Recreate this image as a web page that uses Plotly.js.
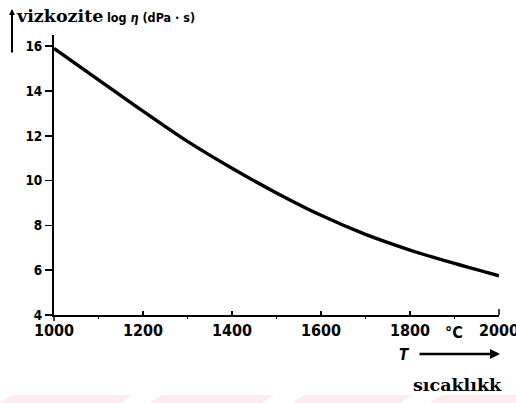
<!DOCTYPE html>
<html><head><meta charset="utf-8">
<script src="https://cdn.plot.ly/plotly-3.0.1.min.js"></script>
<style>html,body{margin:0;padding:0;background:#fff;overflow:hidden}#c{width:516px;height:403px}</style>
</head><body><div id="c"></div>
<script>
const temperature = [1000, 1100, 1200, 1300, 1400, 1500, 1600, 1700, 1800, 1900, 2000];
const logViscosity = [15.9, 14.5, 13.1, 11.75, 10.55, 9.45, 8.45, 7.6, 6.9, 6.3, 5.75];
const xTicks = [1000, 1200, 1400, 1600, 1800, 2000];
const xTickLabels = ['1000', '1200', '1400', '1600', '1800', '2000'];
const yTicks = [4, 6, 8, 10, 12, 14, 16];
const yTickLabels = ['4', '6', '8', '10', '12', '14', '16'];

const L = 54, R = 499, T = 35, B = 315;
const px = X => (X - L) / (R - L);
const py = Y => (B - Y) / (B - T);
const condFam = 'DejaVu Sans Condensed, DejaVu Sans, sans-serif';
const xTickFont = {family: condFam, size: 16, color: '#000', weight: 'bold'};
const yTickFont = {family: condFam, size: 13.5, color: '#000', weight: 'bold'};
const serif = 'DejaVu Serif, serif';

const trace = {
  x: temperature, y: logViscosity, type: 'scatter', mode: 'lines',
  line: {color: '#000', width: 3.4, shape: 'spline'}, hoverinfo: 'skip'
};

const pink = '#fdecef';
const bands = [[0,120],[150,262],[292,400],[430,516]].map(([a,b]) => ({
  type: 'path', xref: 'paper', yref: 'paper',
  path: `M ${px(a+12)} ${py(395)} L ${px(b+12)} ${py(395)} L ${px(b)} ${py(403)} L ${px(a)} ${py(403)} Z`,
  fillcolor: pink, line: {width: 0}, layer: 'below'
}));

const layout = {
  width: 516, height: 403,
  margin: {l: L, r: 516 - R, t: T, b: 403 - B},
  paper_bgcolor: '#fff', plot_bgcolor: '#fff',
  showlegend: false,
  xaxis: {
    range: [1000, 2000], tickvals: xTicks, ticktext: xTickLabels,
    showgrid: false, zeroline: false, showline: true, linecolor: '#000', linewidth: 2,
    ticks: 'inside', ticklen: 4, tickwidth: 1.5, tickcolor: '#000',
    minor: {tickvals: [1100, 1300, 1500, 1700, 1900], ticks: 'outside', ticklen: 2, tickwidth: 1.5, tickcolor: '#000'},
    tickfont: xTickFont, ticklabeloverflow: 'allow'
  },
  yaxis: {
    range: [4, 16.5], tickvals: yTicks, ticktext: yTickLabels,
    showgrid: false, zeroline: false, showline: true, linecolor: '#000', linewidth: 2,
    ticks: 'outside', ticklen: 7, tickwidth: 1.5, tickcolor: '#000',
    tickfont: yTickFont
  },
  shapes: [
    {type: 'line', xref: 'paper', yref: 'paper', x0: px(499), x1: px(499), y0: py(315), y1: py(309), line: {color: '#000', width: 1.5}},
    {type: 'line', xref: 'paper', yref: 'paper', x0: px(54), x1: px(54), y0: py(315), y1: py(321), line: {color: '#000', width: 1.5}}
  ].concat(bands),
  annotations: [
    {xref: 'paper', yref: 'paper', x: px(12), y: py(9), ax: 0, ay: 45, axref: 'pixel', ayref: 'pixel',
     text: '', showarrow: true, arrowhead: 2, arrowsize: 0.6, arrowwidth: 2, arrowcolor: '#000'},
    {xref: 'paper', yref: 'paper', x: px(14), y: py(16), xanchor: 'left', yanchor: 'middle', showarrow: false,
     text: 'vizkozite', font: {family: serif, size: 17.5, color: '#000', weight: 'bold'}},
    {xref: 'paper', yref: 'paper', x: px(105), y: py(17), xanchor: 'left', yanchor: 'middle', showarrow: false,
     text: 'log <i>η</i> (dPa · s)', font: {family: condFam, size: 12.5, color: '#000', weight: 'bold'}},
    {xref: 'paper', yref: 'paper', x: px(454), y: py(332), xanchor: 'center', yanchor: 'middle', showarrow: false,
     text: '°C', font: xTickFont},
    {xref: 'paper', yref: 'paper', x: px(404), y: py(355), xanchor: 'center', yanchor: 'middle', showarrow: false,
     text: '<i>T</i>', font: {family: condFam, size: 15, color: '#000', weight: 'bold'}},
    {xref: 'paper', yref: 'paper', x: px(500), y: py(354), ax: -82, ay: 0, axref: 'pixel', ayref: 'pixel',
     text: '', showarrow: true, arrowhead: 2, arrowsize: 0.8, arrowwidth: 2.5, arrowcolor: '#000'},
    {xref: 'paper', yref: 'paper', x: px(504), y: py(385), xanchor: 'right', yanchor: 'middle', showarrow: false,
     text: 'sıcaklıkk', font: {family: serif, size: 17.5, color: '#000', weight: 'bold'}}
  ]
};

Plotly.newPlot('c', [trace], layout, {displayModeBar: false, staticPlot: true});
</script></body></html>
